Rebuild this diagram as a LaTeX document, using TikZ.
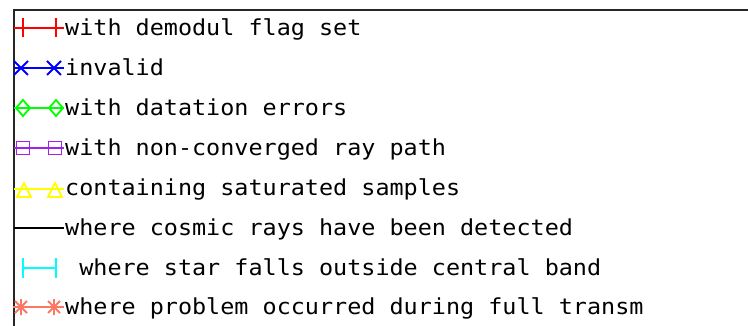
\documentclass[tikz,border=0pt]{standalone}
\usepackage{fontspec}
\newfontfamily\legendfont{DejaVu Sans Mono}
\definecolor{mkred}{RGB}{255,0,0}
\definecolor{mkblue}{RGB}{0,0,255}
\definecolor{mkgreen}{RGB}{0,255,0}
\definecolor{mkpurple}{RGB}{160,32,240}
\definecolor{mkyellow}{RGB}{255,255,0}
\definecolor{mkcyan}{RGB}{0,255,255}
\definecolor{mksalmon}{RGB}{250,120,100}
\begin{document}
\begin{tikzpicture}[x=1pt,y=-1pt,
  frameline/.style={line width=2.5pt,draw=black!85},
  keyline/.style={line width=1.8pt},
  lbl/.style={anchor=base west,inner sep=0pt,font=\legendfont\fontsize{22}{22}\selectfont},
  plusmk/.pic={\draw[keyline] (0,-9.5)--(0,9.5);},
  xmk/.pic={\draw[keyline] (-7,-7)--(7,7) (-7,7)--(7,-7);},
  diamk/.pic={\draw[keyline] (-7,0)--(0,-8)--(7,0)--(0,8)--cycle;},
  sqmk/.pic={\draw[keyline] (-6.5,-6.5) rectangle (6.5,6.5);},
  trimk/.pic={\draw[keyline] (0,-6)--(7,8)--(-7,8)--cycle;},
  barmk/.pic={\draw[keyline] (0,-10)--(0,10);},
  starmk/.pic={\draw[keyline] (-8,0)--(8,0) (0,-8)--(0,8) (-6,-6)--(6,6) (-6,6)--(6,-6);}
]
\useasboundingbox (0,0) rectangle (748,326);
% frame
\coordinate (ftl) at (14,10);
\coordinate (ftr) at (748,10);
\coordinate (fbl) at (14,326);
\draw[frameline] (ftr) -- (ftl) -- (fbl);

% row 1 red
\coordinate (s1) at (14,28); \coordinate (e1) at (64,28);
\coordinate (a1) at (23,28); \coordinate (b1) at (56,28);
\draw[keyline,mkred] (s1) -- (e1);
\pic[mkred] at (a1) {plusmk}; \pic[mkred] at (b1) {plusmk};
\node[lbl] (t1) at (65,36) {\scalebox{1.065}[1]{with demodul flag set}};

% row 2 blue
\coordinate (s2) at (14,68); \coordinate (e2) at (64,68);
\coordinate (a2) at (21,68); \coordinate (b2) at (54,68);
\draw[keyline,mkblue] (s2) -- (e2);
\pic[mkblue] at (a2) {xmk}; \pic[mkblue] at (b2) {xmk};
\node[lbl] (t2) at (65,76) {\scalebox{1.065}[1]{invalid}};

% row 3 green
\coordinate (s3) at (14,108); \coordinate (e3) at (64,108);
\coordinate (a3) at (23,108); \coordinate (b3) at (56,108);
\draw[keyline,mkgreen] (s3) -- (e3);
\pic[mkgreen] at (a3) {diamk}; \pic[mkgreen] at (b3) {diamk};
\node[lbl] (t3) at (65,116) {\scalebox{1.065}[1]{with datation errors}};

% row 4 purple
\coordinate (s4) at (14,148); \coordinate (e4) at (64,148);
\coordinate (a4) at (23,148); \coordinate (b4) at (55,148);
\draw[keyline,mkpurple] (s4) -- (e4);
\pic[mkpurple] at (a4) {sqmk}; \pic[mkpurple] at (b4) {sqmk};
\node[lbl] (t4) at (65,156) {\scalebox{1.065}[1]{with non-converged ray path}};

% row 5 yellow
\coordinate (s5) at (14,189); \coordinate (e5) at (64,189);
\coordinate (a5) at (24,189); \coordinate (b5) at (55,189);
\draw[keyline,mkyellow] (s5) -- (e5);
\pic[mkyellow] at (a5) {trimk}; \pic[mkyellow] at (b5) {trimk};
\node[lbl] (t5) at (65,196) {\scalebox{1.065}[1]{containing saturated samples}};

% row 6 black
\coordinate (s6) at (14,228); \coordinate (e6) at (64,228);
\draw[keyline,black] (s6) -- (e6);
\node[lbl] (t6) at (65,236) {\scalebox{1.065}[1]{where cosmic rays have been detected}};

% row 7 cyan
\coordinate (a7) at (23,268); \coordinate (b7) at (56,268);
\draw[keyline,mkcyan] (a7) -- (b7);
\pic[mkcyan] at (a7) {barmk}; \pic[mkcyan] at (b7) {barmk};
\node[lbl] (t7) at (65,276) {\scalebox{1.065}[1]{\ where star falls outside central band}};

% row 8 salmon
\coordinate (s8) at (14,307); \coordinate (e8) at (64,307);
\coordinate (a8) at (21,307); \coordinate (b8) at (54,307);
\draw[keyline,mksalmon] (s8) -- (e8);
\pic[mksalmon] at (a8) {starmk}; \pic[mksalmon] at (b8) {starmk};
\node[lbl] (t8) at (65,315) {\scalebox{1.065}[1]{where problem occurred during full transm}};
\end{tikzpicture}
\end{document}
